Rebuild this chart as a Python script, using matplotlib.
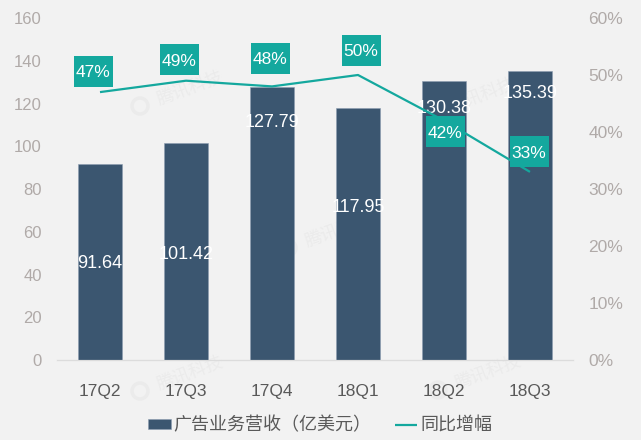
import matplotlib
matplotlib.use("Agg")
import matplotlib.pyplot as plt
from matplotlib.patches import Rectangle, Circle
from matplotlib.transforms import IdentityTransform

plt.rcParams['font.family'] = ['Liberation Sans', 'Noto Sans CJK SC']

quarters = ["17Q2", "17Q3", "17Q4", "18Q1", "18Q2", "18Q3"]
revenue = [91.64, 101.42, 127.79, 117.95, 130.38, 135.39]
growth = [47, 49, 48, 50, 42, 33]
y_ticks = [0, 20, 40, 60, 80, 100, 120, 140, 160]
pct_ticks = [0, 10, 20, 30, 40, 50, 60]

BG = "#f2f2f2"
BAR = "#3b5670"
LINE = "#14a89e"
GREY = "#b0aaa8"
WATERMARK = "#ebebeb"

fig = plt.figure(figsize=(6.41, 4.40), dpi=100, facecolor=BG)
ax = fig.add_axes([57 / 641, 1 - 360 / 440, 516 / 641, 342 / 440], facecolor=BG)
ax2 = ax.twinx()
ax2.patch.set_visible(False)

x = list(range(len(quarters)))
bars = ax.bar(x, revenue, width=0.51, color=BAR, edgecolor="#8c9db0", linewidth=0.4, zorder=2)
line, = ax2.plot(x, growth, color=LINE, lw=1.6, solid_capstyle="butt", zorder=2)

ax.set_xlim(-0.5, 5.5)
ax.set_ylim(0, 160)
ax2.set_ylim(0, 60)
ax.set_yticks(y_ticks)
ax2.set_yticks(pct_ticks)
ax2.set_yticklabels([str(p) + "%" for p in pct_ticks])
ax.set_xticks(x)
ax.set_xticklabels(quarters)

for a in (ax, ax2):
    for s in a.spines.values():
        s.set_visible(False)
    a.spines['bottom'].set_visible(True)
    a.spines['bottom'].set_color("#dcdcdc")
ax.tick_params(axis='x', length=0, pad=17, labelsize=12.5, labelcolor="#595959")
ax.tick_params(axis='y', length=0, pad=11, labelsize=12, labelcolor=GREY)
ax2.tick_params(axis='y', length=0, pad=11, labelsize=12.5, labelcolor=GREY)

# value labels sit inside the bars, moved by hand like in the original (pixels)
value_offsets = [-99, -111, -36, -100, -27, -23]
for i, v in enumerate(revenue):
    ax.annotate("%.2f" % v, (i, v), xytext=(0, value_offsets[i]), textcoords="offset pixels",
                ha="center", va="center", color="white", fontsize=13, zorder=5)

# growth boxes, same thing
box_offsets = [(-7, 21), (-7, 21), (-2, 28), (3, 25), (1, -11), (-1, 20)]
for i, g in enumerate(growth):
    px, py = ax2.transData.transform((i, g))
    dx, dy = box_offsets[i]
    ax2.add_patch(Rectangle((px + dx - 19.5, py + dy - 15.5), 39, 31, transform=IdentityTransform(),
                            fc=LINE, ec="none", zorder=5, clip_on=False))
    ax2.text(px + dx, py + dy, str(g) + "%", transform=IdentityTransform(), ha="center",
             va="center_baseline", color="white", fontsize=12.5, zorder=6)

# faint watermarks behind the bars
for wx, wy in [(190, 88), (338, 230), (482, 95), (190, 373), (488, 372)]:
    ax.text(wx, 440 - wy, "腾讯科技", transform=IdentityTransform(), fontsize=12.5, color=WATERMARK,
            rotation=20, ha="center", va="center", zorder=1, clip_on=False)
    ax.add_patch(Circle((wx - 50, 440 - wy - 18), 8, transform=IdentityTransform(), fill=False,
                        ec=WATERMARK, lw=2.5, zorder=1, clip_on=False))

fig.legend([bars, line], ["广告业务营收（亿美元）", "同比增幅"], loc="center", ncol=2,
           bbox_to_anchor=(320 / 641, 1 - 426 / 440), frameon=False, fontsize=13,
           labelcolor="#595959", handlelength=1.25, handleheight=0.5, handletextpad=0.15,
           columnspacing=1.3)

plt.savefig("out.png", dpi=100, facecolor=BG)
plt.close()
